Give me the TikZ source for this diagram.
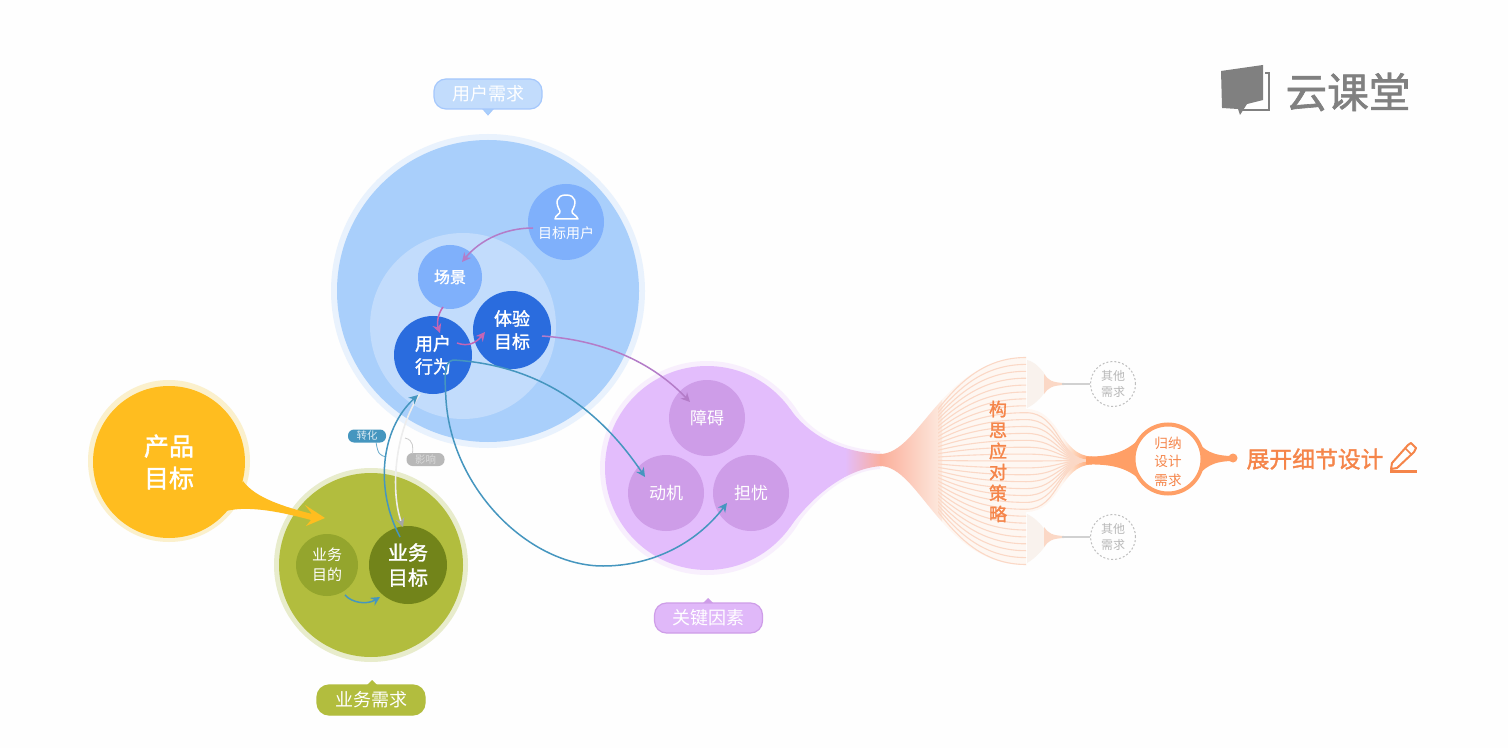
\documentclass[tikz,border=0pt]{standalone}
\usepackage{fontspec}
\setmainfont{Noto Sans CJK SC}
\newfontfamily\med[FakeBold=1.5]{Noto Sans CJK SC}
\usetikzlibrary{arrows.meta,calc,shapes.geometric}
\newcommand\szf[2]{\fontsize{#1}{#2}\selectfont}
\definecolor{bgc}{HTML}{FEFEFE}
\definecolor{bluebig}{HTML}{A9CFFB}
\definecolor{bluehalo}{HTML}{E9F2FD}
\definecolor{bluein}{HTML}{C2DCFC}
\definecolor{bluemid}{HTML}{7FB0FB}
\definecolor{bluedark}{HTML}{2A6CDE}
\definecolor{yel}{HTML}{FFBD1F}
\definecolor{yelhalo}{HTML}{FBF0CC}
\definecolor{grn}{HTML}{B2BD3E}
\definecolor{grnhalo}{HTML}{E8ECCC}
\definecolor{grnmid}{HTML}{94A52D}
\definecolor{grndark}{HTML}{72841A}
\definecolor{pur}{HTML}{E3BDFC}
\definecolor{purhalo}{HTML}{F8EFFD}
\definecolor{purin}{HTML}{CE9DE8}
\definecolor{salm}{HTML}{FBAE9A}
\definecolor{salmpale}{HTML}{FDEADF}
\definecolor{fanpale}{HTML}{FEF7F2}
\definecolor{fanline}{HTML}{FBD8C6}
\definecolor{org}{HTML}{FF9F66}
\definecolor{orgtxt}{HTML}{F5854A}
\definecolor{teal}{HTML}{4596BF}
\definecolor{plum}{HTML}{B47CC8}
\definecolor{pink}{HTML}{C565B4}
\definecolor{logo}{HTML}{808080}
\tikzset{
  ball/.style={circle,inner sep=0pt,outer sep=0pt,text=white,align=center},
  bubble/.style={rectangle,rounded corners=6pt,minimum width=54pt,minimum height=15pt,inner sep=0pt,text=white,font=\szf{9}{11},line width=0.6pt},
  pill/.style={rectangle,rounded corners=3pt,minimum width=19pt,minimum height=6.5pt,inner sep=0pt,font=\szf{5.2}{6}},
  other/.style={circle,minimum size=22.5pt,inner sep=0pt,draw=black!25,dashed,line width=0.5pt,dash pattern=on 1pt off 1pt,text=black!28,align=center,font=\szf{6}{8}},
  conn/.style={line width=0.75pt,-{Stealth[length=4.5pt,width=4.5pt]}},
}
\begin{document}
\begin{tikzpicture}[x=0.5pt,y=-0.5pt]
\useasboundingbox (0,0) rectangle (1508,748);
\fill[bgc] (0,0) rectangle (1508,748);

% halos
\fill[bluehalo] (488,291) circle[radius=157];
\fill[yelhalo] (169,461) circle[radius=81];
\fill[grnhalo] (371,565) circle[radius=97];
\fill[purhalo] (707,468) circle[radius=107];
\fill[purhalo] (793,405) .. controls (813,436) and (845,449) .. (880,451) -- (880,469) .. controls (845,471) and (813,500) .. (793,531) -- cycle;

% blue group
\node[ball,fill=bluebig,minimum size=151pt] (ub) at (488,291) {};
\node[ball,fill=bluein,minimum size=93pt] (ui) at (463,326) {};
\node[ball,fill=bluemid,minimum size=38pt] (tu) at (566,222) {};
\node[inner sep=0pt,text=white,font=\szf{7}{9}] (tut) at (566,233) {目标用户};
\node[ball,fill=bluemid,minimum size=32pt,font=\med\szf{8}{10}] (sc) at (450,277) {场景};
\node[ball,fill=bluedark,minimum size=39pt,font=\med\szf{9}{11.5}] (xw) at (433,355) {用户\\行为};
\node[ball,fill=bluedark,minimum size=39pt,font=\med\szf{9}{11.5}] (ty) at (512,330) {体验\\目标};
% person icon
\draw[white,line width=0.75pt,line join=round] (560,211) .. controls (555,203) and (556,195) .. (566,195) .. controls (576,195) and (577,203) .. (572,211) .. controls (571,214) and (577,215) .. (578,219) -- (555,219) .. controls (555,215) and (561,214) .. (560,211) -- cycle;

% product goal
\node[ball,fill=yel,minimum size=76pt,font=\med\szf{12.5}{16}] (cp) at (169,462) {产品\\目标};

% green group
\node[ball,fill=grn,minimum size=92pt] (yw) at (371,565) {};
\node[ball,fill=grnmid,minimum size=31pt,font=\szf{7.5}{10}] (md) at (327,565) {业务\\目的};
\node[ball,fill=grndark,minimum size=39pt,font=\med\szf{10}{12.5}] (mb) at (408,565) {业务\\目标};

% yellow tail
\fill[yel] (243,481) .. controls (255,498) and (285,507) .. (312,514) -- (305,505) -- (325,518) -- (306,526) -- (311,520) .. controls (285,513) and (250,505) .. (226,511) -- cycle;

% purple body
\fill[pur] (707,468) circle[radius=102];
\begin{scope}
\clip (790,409) .. controls (811,438) and (845,453) .. (882,454) -- (882,466) .. controls (845,468) and (811,498) .. (790,527) -- cycle;
\fill[pur] (780,400) rectangle (845,535);
\shade[left color=pur,right color=salm] (845,400) rectangle (882,535);
\end{scope}
\node[ball,fill=purin,minimum size=38pt,font=\szf{8.5}{11}] (za) at (707,418) {障碍};
\node[ball,fill=purin,minimum size=38pt,font=\szf{8.5}{11}] (dj) at (666,493) {动机};
\node[ball,fill=purin,minimum size=38pt,font=\szf{8.5}{11}] (dy) at (751,493) {担忧};

% fan: filled envelope
\begin{scope}
\clip (880,454) .. controls (920,454) and (942,358) .. (1026,358) -- (1026,565) .. controls (942,565) and (920,466) .. (880,466) -- cycle;
\fill[fanpale] (942,340) rectangle (1030,580);
\shade[left color=salm,right color=salmpale] (880,340) rectangle (942,580);
\end{scope}
% side bundles
\fill[black!2!fanpale] (1027,360) .. controls (1036,362) and (1045,372) .. (1050,384) .. controls (1045,394) and (1036,404) .. (1027,408) -- cycle;
\fill[black!2!fanpale] (1027,514) .. controls (1036,518) and (1045,528) .. (1050,538) .. controls (1045,548) and (1036,558) .. (1027,563) -- cycle;
% central dome
\begin{scope}
\clip (1026,409) .. controls (1060,409) and (1060,456) .. (1092,456.5) -- (1092,464.5) .. controls (1060,465) and (1060,512) .. (1026,512) -- cycle;
\fill[fanpale] (1020,400) rectangle (1062,520);
\shade[left color=fanpale,right color=org] (1062,400) rectangle (1092,520);
\end{scope}
% fan lines
\begin{scope}
\clip (938,340) rectangle (1100,580);
\foreach \i in {-15,...,15}{
  \pgfmathsetmacro\yy{461+\i*6.9}
  \draw[fanline,line width=0.55pt] (880,460) .. controls (925,460) and (942,\yy) .. (1026,\yy);
}
\end{scope}
\begin{scope}
\clip (1026,409) .. controls (1060,409) and (1060,456) .. (1092,456.5) -- (1092,464.5) .. controls (1060,465) and (1060,512) .. (1026,512) -- cycle;
\foreach \i in {-7,...,7}{
  \pgfmathsetmacro\yy{461+\i*6.9}
  \draw[fanline,line width=0.55pt] (1026,\yy) .. controls (1060,\yy) and (1058,460.5) .. (1090,460.5);
}
\end{scope}

% orange neck
\fill[org] (1086,456.5) .. controls (1110,457) and (1128,452) .. (1142,436) -- (1142,482) .. controls (1128,467) and (1110,464) .. (1086,464.5) -- cycle;
\fill[org] (1196,440) .. controls (1204,450) and (1212,456) .. (1233,456) -- (1233,461) .. controls (1212,461) and (1204,468) .. (1196,478) -- cycle;
\node[ball,fill=bgc,draw=org,line width=2pt,minimum size=34.5pt] (gn) at (1168,459) {};
\node[inner sep=0pt,text=orgtxt,align=center,font=\szf{6.8}{9.2}] (gnt) at (1168,461.5) {归纳\\设计\\需求};
\node[ball,fill=org,minimum size=4.5pt] (dot) at (1233,458) {};
\node[inner sep=0pt,text=orgtxt,font=\med\szf{11.4}{13}] (zk) at (1315,459) {展开细节设计};
\node[inner sep=0pt,text=orgtxt,font=\med\szf{9}{10.5},align=center] (gs) at (998,461.5) {构\\[0pt]思\\[0pt]应\\[0pt]对\\[0pt]策\\[0pt]略};

% other needs
\node[other] (q1) at (1113,384) {其他\\需求};
\node[other] (q2) at (1113,537) {其他\\需求};
\fill[fanline] (1044,374) .. controls (1048,380) and (1052,382.5) .. (1064,383) -- (1064,385) .. controls (1052,385.5) and (1048,388) .. (1044,394) -- cycle;
\fill[fanline] (1044,527) .. controls (1048,533) and (1052,535.5) .. (1064,536) -- (1064,538) .. controls (1052,538.5) and (1048,541) .. (1044,547) -- cycle;
\draw[black!18,line width=1.2pt] (1062,384) -- (q1.west);
\draw[black!18,line width=1.2pt] (1062,537) -- (q2.west);

% pencil
\draw[orgtxt,line width=1pt,line join=round] (1392,463) -- (1408,445) -- (1411,443) -- (1416,448) -- (1414,452) -- (1397,468) -- (1391,469) -- cycle;
\draw[orgtxt,line width=0.8pt] (1405,448) -- (1411,454);
\draw[orgtxt,line width=1.2pt] (1390,471.5) -- (1417,471.5);

% pointers and bubbles
\fill[bluebig,draw=bluemid!70!white,line width=0.4pt] (481,107) -- (488,115) -- (495,107) -- cycle;
\node[bubble,fill=bluein,draw=bluemid!70!white] (l1) at (488,94) {用户需求};
\fill[grn] (365,687) -- (372,680) -- (379,687) -- cycle;
\node[bubble,fill=grn,draw=grn] (l2) at (371,700) {业务需求};
\fill[purin] (701,605) -- (708,598) -- (715,605) -- cycle;
\node[bubble,fill=pur!85!purin,draw=purin] (l3) at (708.5,618) {关键因素};

% pills
\node[pill,fill=teal,text=white!80!teal] (zh) at (367,436) {转化};
\node[pill,fill=black!28,text=white!85!black] (yx) at (425.5,459.5) {影响};
\draw[teal!80!white,line width=0.4pt] ($(zh)+(9,6)$) .. controls (378,455) and (380,455) .. (386,457);
\draw[black!20,line width=0.4pt] ($(yx)+(-13,-6)$) .. controls (413,448) and (414,440) .. (405,438);

% connectors
\draw[conn,plum] ($(tu)+(-33,6)$) .. controls (505,228) and (480,240) .. ($(sc)+(12,-15)$);
\draw[conn,pink] ($(sc)+(-7,30)$) .. controls (437,315) and (437,325) .. ($(xw)+(7,-22)$);
\draw[conn,pink] ($(xw)+(24,-12)$) .. controls (468,347) and (476,343) .. ($(ty)+(-27,2)$);
\draw[conn,plum] ($(ty)+(30,6)$) .. controls (600,340) and (650,360) .. ($(za)+(-17,-16)$);
\draw[conn,teal] ($(xw)+(20,5)$) .. controls (540,365) and (600,410) .. ($(dj)+(-21,-16)$);
\draw[conn,teal] ($(xw)+(20,5)$) .. controls (443,362) and (445,380) .. (446,400) .. controls (452,490) and (530,566) .. (603,566) .. controls (650,566) and (695,545) .. ($(dy)+(-24,10)$);
\draw[line width=0.8pt,black!7,-{Stealth[length=4.5pt,width=4.5pt,color=black!35]}] ($(xw)+(-13,39)$) .. controls (395,430) and (390,490) .. ($(mb)+(-5,-38)$);
\draw[conn,teal] ($(mb)+(-8,-28)$) .. controls (375,490) and (380,430) .. ($(xw)+(-15,40)$);
\draw[conn,teal] ($(md)+(18,30)$) .. controls (352,603) and (367,605) .. ($(mb)+(-28,32)$);

% logo
\fill[logo] (1221,71) -- (1263,65) -- (1263,100) -- (1247,104) -- (1240,115) -- (1238,109) -- (1222,108) -- cycle;
\draw[logo,line width=1pt] (1265,73) -- (1269,73) -- (1269,110) -- (1241,110);
\node[inner sep=0pt,text=logo,font=\med\szf{20.8}{24}] (yk) at (1348,92) {云课堂};
\end{tikzpicture}
\end{document}
